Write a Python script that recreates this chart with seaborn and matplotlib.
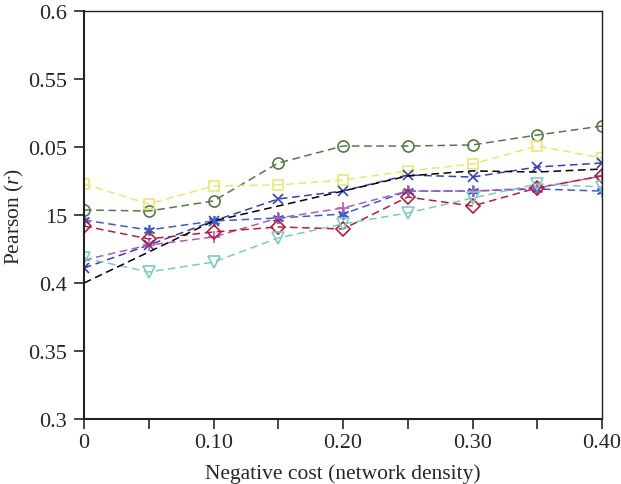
import matplotlib
matplotlib.use("Agg")
import matplotlib.pyplot as plt
import seaborn as sns
import pandas as pd

density = [0.0, 0.05, 0.10, 0.15, 0.20, 0.25, 0.30, 0.35, 0.40]

circle_vals   = [0.4537, 0.4529, 0.4603, 0.4882, 0.5007, 0.5007, 0.5015, 0.5088, 0.5154]
square_vals   = [0.4728, 0.4581, 0.4713, 0.4721, 0.4757, 0.4824, 0.4875, 0.5007, 0.4919]
xmark_vals    = [0.4110, 0.4279, 0.4456, 0.4618, 0.4676, 0.4794, 0.4779, 0.4853, 0.4882]
star_vals     = [0.4463, 0.4390, 0.4456, 0.4478, 0.4507, 0.4676, 0.4676, 0.4691, 0.4676]
plus_vals     = [0.4169, 0.4279, 0.4338, 0.4478, 0.4551, 0.4676, 0.4676, 0.4699, 0.4787]
diamond_vals  = [0.4419, 0.4324, 0.4375, 0.4412, 0.4397, 0.4632, 0.4566, 0.4699, 0.4787]
triangle_vals = [0.4184, 0.4081, 0.4154, 0.4331, 0.4434, 0.4515, 0.4625, 0.4728, 0.4706]
black_vals    = [0.4000, 0.4228, 0.4456, 0.4566, 0.4676, 0.4787, 0.4824, 0.4816, 0.4838]

y_ticks = [0.3, 0.35, 0.4, 0.45, 0.5, 0.55, 0.6]
y_tick_labels = ["0.3", "0.35", "0.4", "15", "0.05", "0.55", "0.6"]
x_ticks = [0.0, 0.05, 0.10, 0.15, 0.20, 0.25, 0.30, 0.35, 0.40]
x_tick_labels = ["0", "", "0.10", "", "0.20", "", "0.30", "", "0.40"]

sns.set_style("ticks")
plt.rcParams["font.family"] = ["Liberation Serif", "DejaVu Serif"]
plt.rcParams["mathtext.fontset"] = "custom"
plt.rcParams["mathtext.rm"] = "Liberation Serif"
plt.rcParams["mathtext.it"] = "Liberation Serif:italic"

fig = plt.figure(figsize=(6.21, 4.85), dpi=100)
ax = fig.add_axes([0.1353, 0.134, 0.8341, 0.8413])

series = [
    (circle_vals,   "#56774a", "o", 8),
    (square_vals,   "#e6e67a", "s", 7),
    (xmark_vals,    "#3a3fae", "x", 7),
    (star_vals,     "#3f5cc4", (6, 2, 0), 8),
    (plus_vals,     "#b05cb8", "+", 8),
    (diamond_vals,  "#b0203e", "D", 7),
    (triangle_vals, "#80c8c0", "v", 8),
]

dash = (5, 3)
for vals, col, mk, ms in series:
    df = pd.DataFrame({"x": density, "y": vals})
    sns.lineplot(data=df, x="x", y="y", ax=ax, color=col, linewidth=1.1,
                 marker=mk, markersize=ms, markerfacecolor="none",
                 markeredgecolor=col, markeredgewidth=1.2, dashes=False)
    ax.lines[-1].set_dashes(dash)

dfb = pd.DataFrame({"x": density, "y": black_vals})
sns.lineplot(data=dfb, x="x", y="y", ax=ax, color="black", linewidth=1.1)
ax.lines[-1].set_dashes(dash)

ax.set_xlim(0, 0.40)
ax.set_ylim(0.3, 0.6)
ax.set_xticks(x_ticks)
ax.set_xticklabels(x_tick_labels)
ax.set_yticks(y_ticks)
ax.set_yticklabels(y_tick_labels)
ax.tick_params(axis="both", direction="out", length=7, width=1.2, labelsize=16)
ax.tick_params(axis="x", pad=3)
ax.tick_params(axis="y", pad=5)
for s in ax.spines.values():
    s.set_linewidth(1.0)
    s.set_color("#222222")
ax.spines["left"].set_linewidth(1.5)
ax.spines["bottom"].set_linewidth(1.5)

ax.set_xlabel("Negative cost (network density)", fontsize=15.5, labelpad=8)
ax.set_ylabel("Pearson ($r$)", fontsize=15.5, labelpad=2)

fig.savefig("out.png", dpi=100)
